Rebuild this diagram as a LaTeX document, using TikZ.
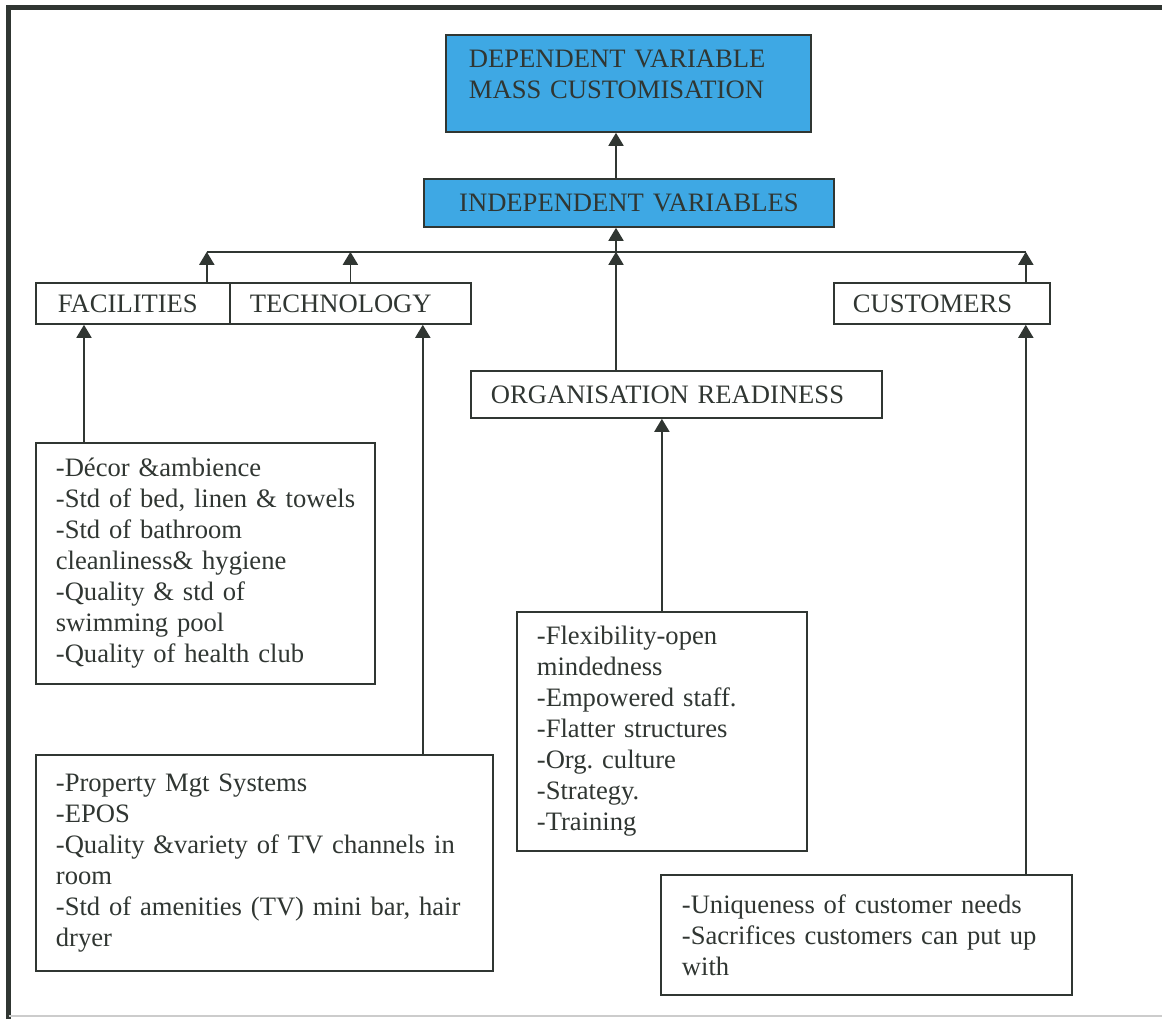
\documentclass[tikz,border=0pt]{standalone}
\usepackage{fontspec}
\setmainfont{Liberation Serif}
\usetikzlibrary{arrows.meta,calc}
\definecolor{boxblue}{RGB}{62,168,228}
\definecolor{ink}{RGB}{48,54,50}

\begin{document}
\begin{tikzpicture}[x=0.5pt,y=-0.5pt,
  box/.style={draw=ink, line width=0.9pt, text=ink, anchor=north west, align=left,
    inner ysep=0pt, font=\fontsize{13.3}{15.5}\selectfont\frenchspacing},
  bluebox/.style={box, fill=boxblue},
  arr/.style={draw=ink, line width=0.9pt, -{Triangle[width=7.5pt,length=6.5pt]}}]
\useasboundingbox (0,0) rectangle (1162,1019);

\draw[ink, line width=2.5pt] (8.5,1019) -- (8.5,7) -- (1162,7);
\draw[black!20, line width=0.6pt] (8.5,1016) -- (1162,1016);

\node[bluebox, inner xsep=11.5pt, text width=159.5pt, minimum height=48.5pt] (DV) at (445,34) {DEPENDENT VARIABLE\\MASS CUSTOMISATION\\[-6pt]\mbox{}};
\node[bluebox, align=center, inner xsep=0pt, text width=205pt, minimum height=24pt] (IV) at (423,178) {INDEPENDENT VARIABLES};

\node[box, inner xsep=11pt, text width=75pt, minimum height=20.5pt] (FAC) at (35,282) {FACILITIES};
\node[box, inner xsep=10pt, text width=100.5pt, minimum height=20.5pt] (TEC) at (229,282) {TECHNOLOGY};
\node[box, inner xsep=9.5pt, text width=89pt, minimum height=20.5pt] (CUS) at (833,282) {CUSTOMERS};
\node[box, inner xsep=10pt, text width=185.5pt, minimum height=23.5pt] (ORG) at (470,370) {ORGANISATION READINESS};

\node[box, inner xsep=10pt, text width=149.5pt, minimum height=120.5pt] (FL) at (35,442) {-Décor \&ambience\\\mbox{-Std of bed, linen \& towels}\\-Std of bathroom\\cleanliness\& hygiene\\-Quality \& std of\\swimming pool\\-Quality of health club};
\node[box, inner xsep=10pt, text width=208.5pt, minimum height=108pt] (TL) at (35,754) {-Property Mgt Systems\\-EPOS\\\mbox{-Quality \&variety of TV channels in}\\room\\\mbox{-Std of amenities (TV) mini bar, hair}\\dryer};
\node[box, inner xsep=10pt, text width=125pt, minimum height=119.5pt] (OL) at (516,611) {-Flexibility-open\\mindedness\\-Empowered staff.\\-Flatter structures\\-Org. culture\\-Strategy.\\-Training};
\node[box, inner xsep=10.5pt, text width=184.5pt, minimum height=60pt] (CL) at (660,874) {\mbox{-Uniqueness of customer needs}\\\mbox{-Sacrifices customers can put up}\\with};

\coordinate (spine) at ($(IV.south west)+(193,0)$);
\coordinate (bus) at ($(IV.south)+(0,24)$);
\coordinate (fx) at ($(FAC.north east)+(-24,0)$);
\coordinate (tx) at ($(TEC.south east)+(-49,0)$);
\coordinate (cx) at ($(CUS.south east)+(-25,0)$);
\coordinate (fl) at ($(FL.north west)+(49,0)$);

\draw[ink, line width=0.9pt] (fx |- bus) -- (cx |- bus);
\draw[arr] (fx) -- (fx |- bus);
\draw[arr] (TEC.north) -- (TEC.north |- bus);
\draw[arr] (cx |- CUS.north) -- (cx |- bus);
\draw[arr] (spine |- ORG.north) -- (spine |- bus);
\draw[arr] (spine |- bus) -- (spine);
\draw[arr] (spine |- IV.north) -- (spine |- DV.south);
\draw[arr] (fl) -- (fl |- FAC.south);
\draw[arr] (tx |- TL.north) -- (tx);
\draw[arr] (OL.north) -- (OL.north |- ORG.south);
\draw[arr] (CL.north -| cx) -- (cx);
\end{tikzpicture}
\end{document}
